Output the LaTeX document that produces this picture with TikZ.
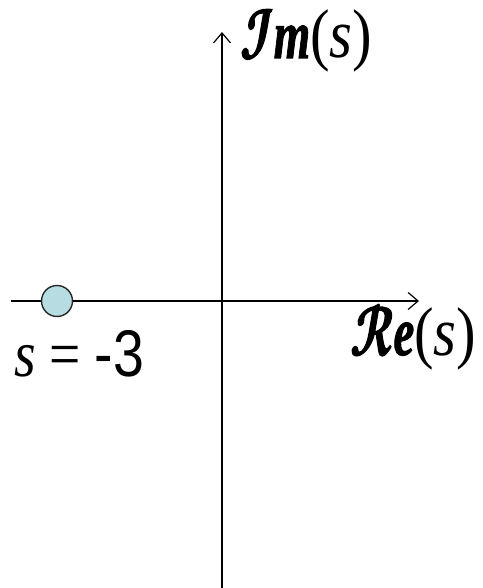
\documentclass[tikz,border=0pt]{standalone}
\usepackage{graphicx}
\usepackage{fontspec}
\setmainfont{Liberation Serif}
\newfontfamily\numfont{Liberation Sans}
\newfontfamily\boldscr[FakeBold=2.5]{latinmodern-math.otf}
\usetikzlibrary{arrows.meta, positioning, calc}
\definecolor{polefill}{RGB}{183,221,226}
\newcommand{\narrow}[2]{\scalebox{#1}[1]{#2}}
\newcommand{\scrpart}[2]{\narrow{0.8}{{\boldscr #1}{\bfseries\itshape\addfontfeatures{FakeBold=1.5}#2}}}

\begin{document}
\begin{tikzpicture}[
  x=1pt, y=-1pt,
  axis/.style={line width=1.8pt, -{Straight Barb[length=10pt, width=17pt, line width=1.2pt]}},
  pole/.style={circle, draw=black!85, line width=1.4pt, fill=polefill,
               minimum size=31pt, inner sep=0pt},
  lbl/.style={font=\fontsize{69}{72}\selectfont, inner sep=0pt, anchor=base west},
  polelbl/.style={lbl, font=\fontsize{66}{70}\selectfont}
]
\useasboundingbox (0,0) rectangle (482,588);
% axes
\coordinate (imtop) at (222,32);
\coordinate (imbot) at (222,588);
\coordinate (releft) at (11,301);
\coordinate (reright) at (419,301);
\draw[axis] (imbot) -- (imtop);
\draw[axis] (releft) -- (reright);
% pole on the real axis
\node[pole] (pole3) at (57,301) {};
% labels
\node[lbl] (imlbl) at (240,58)
  {\narrow{0.85}{\scrpart{𝓘}{m}(\textit{s})}};
\node[lbl] (relbl) at (350,355)
  {\narrow{0.85}{\scrpart{𝓡}{e}(\textit{s})}};
\node[polelbl] (polelbl) at (14,376)
  {\narrow{0.84}{\textit{s} = {\numfont -3}}};
\end{tikzpicture}
\end{document}
